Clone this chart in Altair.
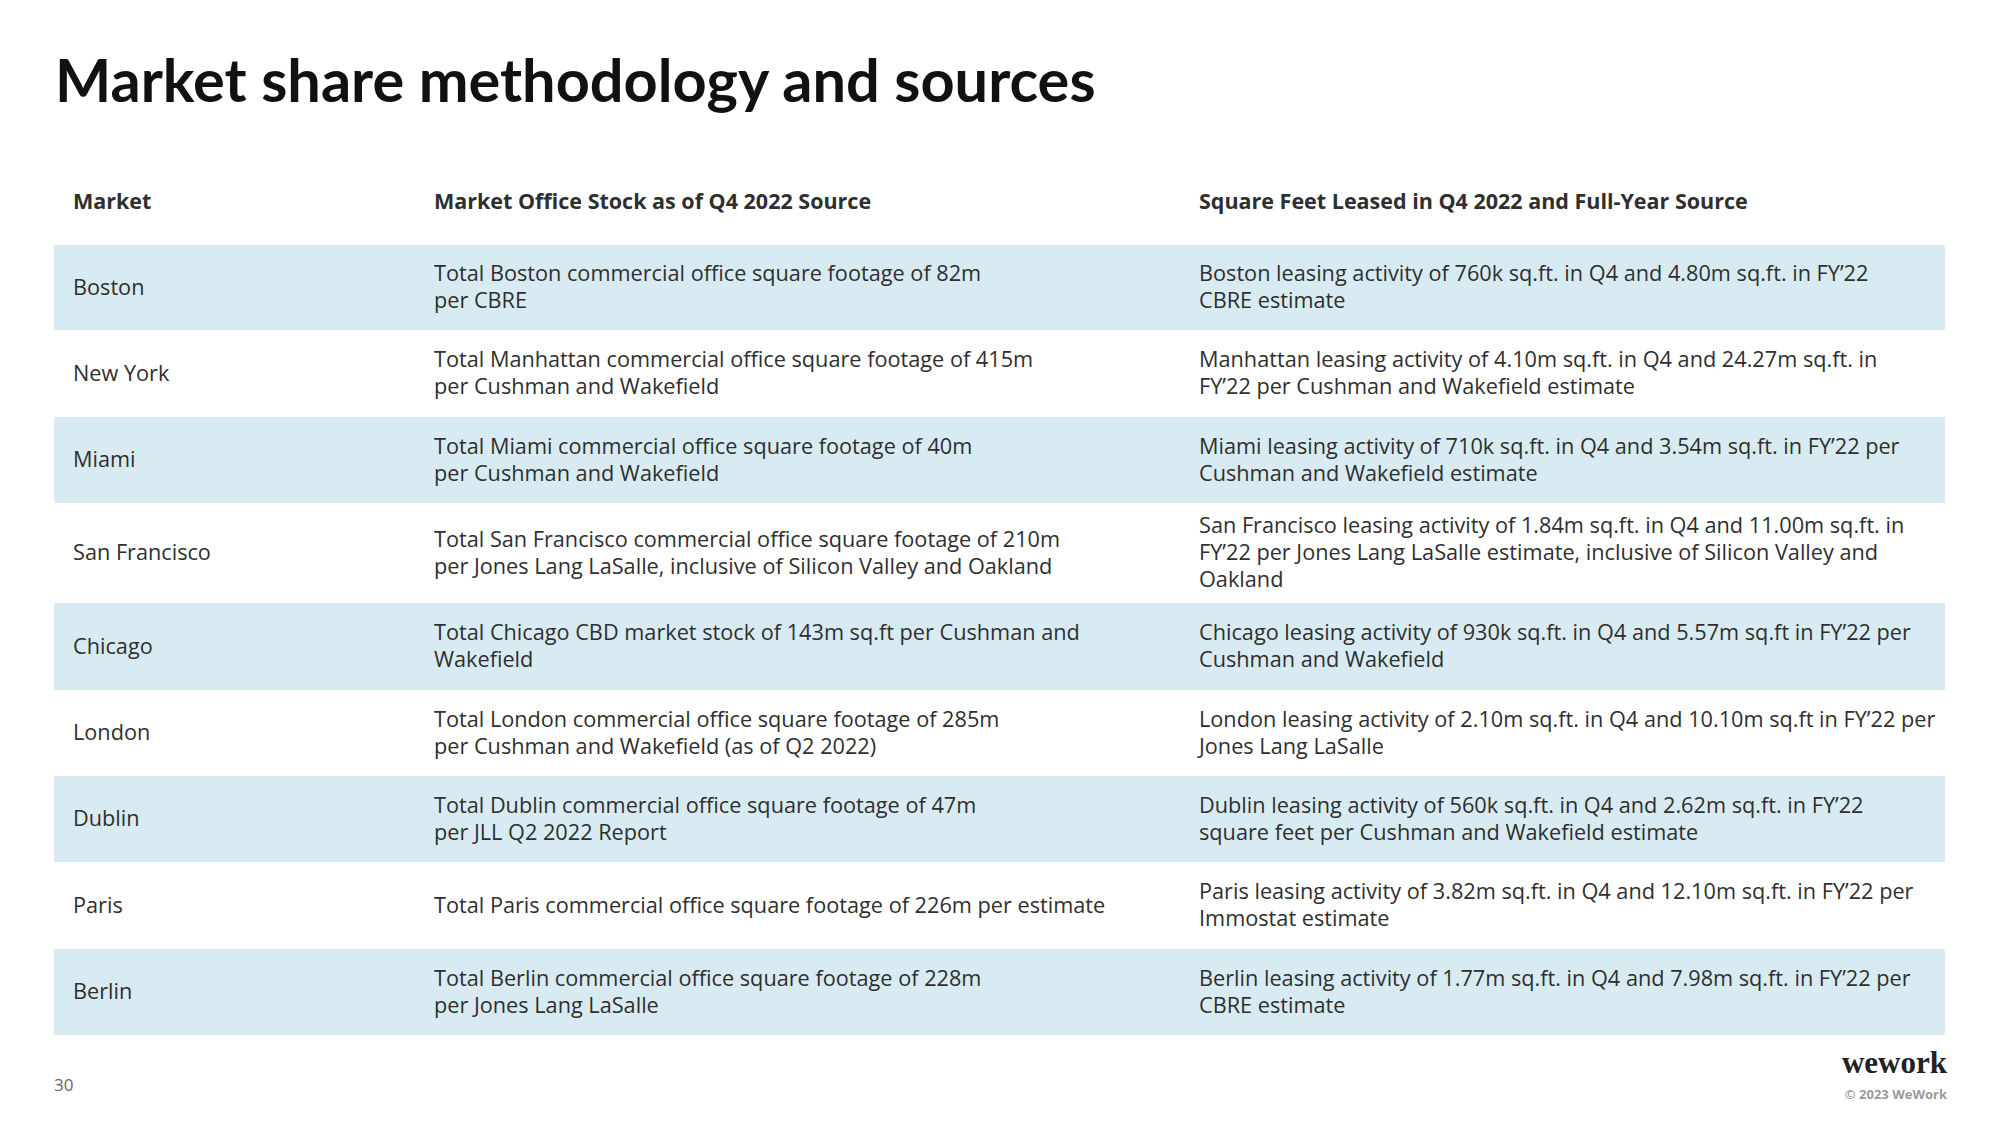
import altair as alt
import pandas as pd

W, H = 1984, 1109

title_text = "Market share methodology and sources"
headers = ["Market", "Market Office Stock as of Q4 2022 Source",
           "Square Feet Leased in Q4 2022 and Full-Year Source"]

markets = ["Boston", "New York", "Miami", "San Francisco", "Chicago",
           "London", "Dublin", "Paris", "Berlin"]

stock_sources = [
    "Total Boston commercial office square footage of 82m\nper CBRE",
    "Total Manhattan commercial office square footage of 415m\nper Cushman and Wakefield",
    "Total Miami commercial office square footage of 40m\nper Cushman and Wakefield",
    "Total San Francisco commercial office square footage of 210m\nper Jones Lang LaSalle, inclusive of Silicon Valley and Oakland",
    "Total Chicago CBD market stock of 143m sq.ft per Cushman and\nWakefield",
    "Total London commercial office square footage of 285m\nper Cushman and Wakefield (as of Q2 2022)",
    "Total Dublin commercial office square footage of 47m\nper JLL Q2 2022 Report",
    "Total Paris commercial office square footage of 226m per estimate",
    "Total Berlin commercial office square footage of 228m\nper Jones Lang LaSalle",
]

leased_sources = [
    "Boston leasing activity of 760k sq.ft. in Q4 and 4.80m sq.ft. in FY\u201922\nCBRE estimate",
    "Manhattan leasing activity of 4.10m sq.ft. in Q4 and 24.27m sq.ft. in\nFY\u201922 per Cushman and Wakefield estimate",
    "Miami leasing activity of 710k sq.ft. in Q4 and 3.54m sq.ft. in FY\u201922 per\nCushman and Wakefield estimate",
    "San Francisco leasing activity of 1.84m sq.ft. in Q4 and 11.00m sq.ft. in\nFY\u201922 per Jones Lang LaSalle estimate, inclusive of Silicon Valley and\nOakland",
    "Chicago leasing activity of 930k sq.ft. in Q4 and 5.57m sq.ft in FY\u201922 per\nCushman and Wakefield",
    "London leasing activity of 2.10m sq.ft. in Q4 and 10.10m sq.ft in FY\u201922 per\nJones Lang LaSalle",
    "Dublin leasing activity of 560k sq.ft. in Q4 and 2.62m sq.ft. in FY\u201922\nsquare feet per Cushman and Wakefield estimate",
    "Paris leasing activity of 3.82m sq.ft. in Q4 and 12.10m sq.ft. in FY\u201922 per\nImmostat estimate",
    "Berlin leasing activity of 1.77m sq.ft. in Q4 and 7.98m sq.ft. in FY\u201922 per\nCBRE estimate",
]

page_number = "30"
logo_text = "wework"
copyright_text = "\u00a9 2023 WeWork"

# layout (chart pixel units)
col_x = [65, 426, 1191]
band_left, band_right = 46, 1937
table_top = 237
row_heights = [85, 87, 86, 100, 87, 86, 86, 87, 86]
header_y = 195
LINE_H = 27

FONT = "Open Sans"
TEXT_COLOR = "#2f2f2f"
BAND_COLOR = "#d8ebf2"

tops = []
t = table_top
for h in row_heights:
    tops.append(t)
    t += h

rows = pd.DataFrame({
    "market": markets,
    "stock": stock_sources,
    "leased": leased_sources,
    "top": tops,
    "bottom": [a + b for a, b in zip(tops, row_heights)],
    "shaded": [i % 2 == 0 for i in range(len(markets))],
    "x0": band_left,
    "x1": band_right,
    "c0": col_x[0],
    "c1": col_x[1],
    "c2": col_x[2],
})
rows["mid"] = (rows["top"] + rows["bottom"]) / 2
for f in ["market", "stock", "leased"]:
    n = rows[f].str.count("\n")
    rows["y_" + f] = rows["mid"] - n * LINE_H / 2

xs = alt.Scale(domain=[0, W], range=[0, W])
ys = alt.Scale(domain=[0, H], range=[0, H])

base = alt.Chart(rows)

bands = base.transform_filter("datum.shaded").mark_rect(color=BAND_COLOR).encode(
    x=alt.X("x0:Q", scale=xs, axis=None),
    x2="x1:Q",
    y=alt.Y("top:Q", scale=ys, axis=None),
    y2="bottom:Q",
)

def col_text(field, xfield):
    return base.mark_text(
        font=FONT, fontSize=21.7, color=TEXT_COLOR, align="left",
        baseline="middle", lineBreak="\n", lineHeight=LINE_H,
    ).encode(
        x=alt.X(f"{xfield}:Q", scale=xs, axis=None),
        y=alt.Y(f"y_{field}:Q", scale=ys, axis=None),
        text=f"{field}:N",
    )

t_market = col_text("market", "c0")
t_stock = col_text("stock", "c1")
t_leased = col_text("leased", "c2")

hdr = pd.DataFrame({"text": headers, "x": col_x, "y": header_y})
t_hdr = alt.Chart(hdr).mark_text(
    font=FONT, fontSize=21.5, fontWeight="bold", color=TEXT_COLOR,
    align="left", baseline="middle",
).encode(
    x=alt.X("x:Q", scale=xs, axis=None),
    y=alt.Y("y:Q", scale=ys, axis=None),
    text="text:N",
)

misc = pd.DataFrame({
    "text": [title_text],
    "x": [47], "y": [94],
})
t_title = alt.Chart(misc).mark_text(
    font="Lato", fontSize=59.5, fontWeight="bold", color="#111111",
    align="left", baseline="alphabetic",
).encode(
    x=alt.X("x:Q", scale=xs, axis=None),
    y=alt.Y("y:Q", scale=ys, axis=None),
    text="text:N",
)

pg = pd.DataFrame({"text": [page_number], "x": [46], "y": [1078]})
t_pg = alt.Chart(pg).mark_text(
    font=FONT, fontSize=17, color="#666666", align="left", baseline="middle",
).encode(
    x=alt.X("x:Q", scale=xs, axis=None),
    y=alt.Y("y:Q", scale=ys, axis=None),
    text="text:N",
)

logo = pd.DataFrame({"text": [logo_text], "x": [1939], "y": [1065]})
t_logo = alt.Chart(logo).mark_text(
    font="Liberation Serif", fontSize=31, fontWeight="bold", color="#222222",
    align="right", baseline="alphabetic",
).encode(
    x=alt.X("x:Q", scale=xs, axis=None),
    y=alt.Y("y:Q", scale=ys, axis=None),
    text="text:N",
)

cp = pd.DataFrame({"text": [copyright_text], "x": [1939], "y": [1087]})
t_cp = alt.Chart(cp).mark_text(
    font=FONT, fontSize=13, fontWeight="bold", color="#9a9a9a",
    align="right", baseline="middle",
).encode(
    x=alt.X("x:Q", scale=xs, axis=None),
    y=alt.Y("y:Q", scale=ys, axis=None),
    text="text:N",
)

chart = alt.layer(
    bands, t_market, t_stock, t_leased, t_hdr, t_title, t_pg, t_logo, t_cp
).properties(
    width=W, height=H, padding=0, background="white",
    autosize=alt.AutoSizeParams(type="none"),
).configure_view(strokeWidth=0)

chart.save("out.html", embed_options={"renderer": "svg", "actions": False})
